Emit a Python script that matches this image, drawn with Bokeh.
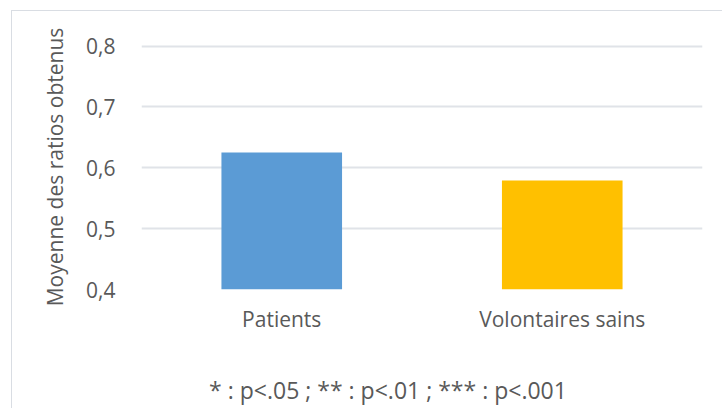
from bokeh.plotting import figure
from bokeh.models import FactorRange, Range1d, FixedTicker, ColumnDataSource, Div
from bokeh.layouts import column
from bokeh.embed import file_html
from bokeh.resources import INLINE

categories = ["Patients", "Volontaires sains"]
values = [0.625, 0.579]
colors = ["#5B9BD5", "#FFC000"]
y_ticks = [0.4, 0.5, 0.6, 0.7, 0.8]
y_tick_labels = ["0,4", "0,5", "0,6", "0,7", "0,8"]
y_title = "Moyenne des ratios obtenus"
footer = "* : p<.05 ; ** : p<.01 ; *** : p<.001"

TXT = "#595959"
FONT = "Open Sans"
GRID = "#E0E3E8"

src = ColumnDataSource(dict(cat=categories, val=values, color=colors))

p = figure(
    x_range=FactorRange(*categories, range_padding=0),
    y_range=Range1d(0.4, 0.8025),
    width=700, height=330,
    output_backend="svg", toolbar_location=None,
    min_border_left=129, min_border_right=10, min_border_top=33, min_border_bottom=52,
    outline_line_color=None,
)

p.vbar(x="cat", top="val", bottom=0.4, width=0.43, color="color", source=src, line_color=None)

p.yaxis.ticker = FixedTicker(ticks=y_ticks)
p.yaxis.major_label_overrides = {t: l for t, l in zip(y_ticks, y_tick_labels)}
p.yaxis.axis_label = y_title
for ax in (p.xaxis[0], p.yaxis[0]):
    ax.axis_line_color = None
    ax.major_tick_line_color = None
    ax.minor_tick_line_color = None
    ax.major_label_text_color = TXT
    ax.major_label_text_font = FONT
    ax.major_label_text_font_size = "21px"
    ax.axis_label_text_color = TXT
    ax.axis_label_text_font = FONT
    ax.axis_label_text_font_size = "21px"
    ax.axis_label_text_font_style = "normal"
p.yaxis.major_label_standoff = 20
p.yaxis.axis_label_standoff = 14
p.xaxis.major_label_standoff = 9

p.xgrid.grid_line_color = None
p.ygrid.grid_line_color = GRID
p.ygrid.grid_line_width = 2
p.ygrid.ticker = FixedTicker(ticks=y_ticks)

note = Div(
    text=(f'<div style="width:600px; margin-left:71px; padding-top:29px; text-align:center; '
          f'white-space:nowrap; font-family:\'{FONT}\'; font-size:23px; line-height:31px; '
          f'color:{TXT};">{footer}</div>'),
    width=700, height=64,
)

layout = column(p, note, spacing=0,
                styles={"margin-left": "11px", "margin-top": "10px",
                        "border-left": "1px solid #D9DDE3", "border-top": "1px solid #D9DDE3"})

open("out.html", "w").write(file_html(layout, INLINE))
